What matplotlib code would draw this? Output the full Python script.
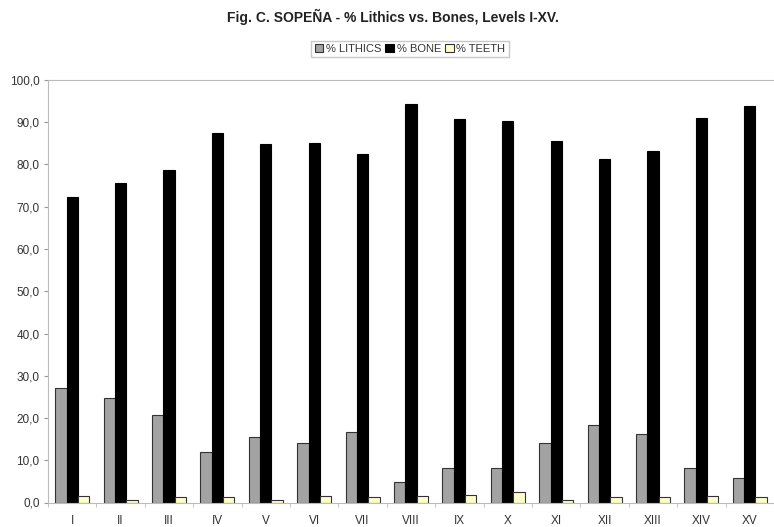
import matplotlib
matplotlib.use("Agg")
import matplotlib.pyplot as plt
import numpy as np

levels = ["I", "II", "III", "IV", "V", "VI", "VII", "VIII", "IX", "X",
          "XI", "XII", "XIII", "XIV", "XV"]
lithics = [27.0, 24.7, 20.7, 11.9, 15.4, 14.0, 16.8, 4.8, 8.1, 8.1,
           14.2, 18.3, 16.2, 8.1, 5.7]
bone = [72.2, 75.6, 78.6, 87.4, 84.8, 85.1, 82.6, 94.3, 90.8, 90.3,
        85.6, 81.2, 83.3, 90.9, 93.9]
teeth = [1.6, 0.5, 1.2, 1.4, 0.5, 1.6, 1.4, 1.6, 1.8, 2.5,
         0.5, 1.2, 1.2, 1.6, 1.2]
yticks = [0, 10, 20, 30, 40, 50, 60, 70, 80, 90, 100]

plt.rcParams['font.family'] = ['Liberation Sans', 'DejaVu Sans']

fig = plt.figure(figsize=(7.74, 5.27), dpi=100)
ax = fig.add_axes([48/774, 1-502.5/527, 1-48/774, (502.5-80)/527])

x = np.arange(len(levels))
w = 0.235
ax.bar(x - w, lithics, w, color="#a3a3a3", edgecolor="#333333", linewidth=0.8, label="% LITHICS")
ax.bar(x, bone, w, color="#000000", edgecolor="#000000", linewidth=0.8, label="% BONE")
ax.bar(x + w, teeth, w, color="#ffffcc", edgecolor="#333333", linewidth=0.8, label="% TEETH")

ax.set_ylim(0, 100)
ax.set_xlim(-0.489, 14.285)
ax.set_yticks(yticks)
ax.set_yticklabels([f"{v:.1f}".replace(".", ",") for v in yticks], fontsize=8.5, color="#333333")
ax.set_xticks(x)
ax.set_xticklabels(levels, fontsize=8.5, color="#333333")
ax.set_xticks(np.arange(-0.5, 14.6, 1), minor=True)
ax.tick_params(axis='x', which='major', length=0, pad=9)
ax.tick_params(axis='x', which='minor', length=3, color="#bbbbbb")
ax.tick_params(axis='y', length=3, color="#999999", pad=3)

for s in ["left", "bottom", "top"]:
    ax.spines[s].set_color("#bbbbbb")
    ax.spines[s].set_linewidth(0.8)
ax.spines["right"].set_visible(False)

fig.text(393/774, 1-17/527, "Fig. C. SOPEÑA - % Lithics vs. Bones, Levels I-XV.",
         ha="center", va="center", fontsize=10, fontweight="bold", color="#222222")

leg = fig.legend(loc="center", bbox_to_anchor=(410/774, 1-49/527), ncol=3, fontsize=8,
                 frameon=True, fancybox=False, edgecolor="#bbbbbb", handlelength=0.8,
                 handleheight=0.8, handletextpad=0.2, columnspacing=0.4, borderpad=0.3)
for t in leg.get_texts():
    t.set_color("#333333")

fig.savefig("out.png", dpi=100)
